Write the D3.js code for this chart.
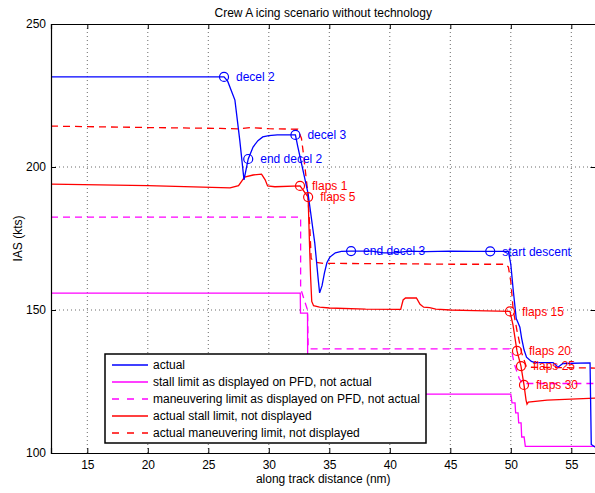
<!DOCTYPE html>
<html>
<head>
<meta charset="utf-8">
<script src="https://cdn.jsdelivr.net/npm/d3@7"></script>
<style>
  body { margin: 0; background: #fff; }
  text { font-family: "Liberation Sans", Arial, Helvetica, sans-serif; font-size: 12px; }
</style>
</head>
<body>
<div id="chart"></div>
<script>
// series data (x = along track nm, y = IAS kts)
var actualX = [12, 26.3, 26.6, 27.2, 27.6, 27.95, 28.3, 28.7, 29.1, 29.5, 30.0, 30.7, 32.2, 32.4, 33.24, 33.8, 34.1, 34.2, 34.4, 34.6, 34.8, 35.05, 35.5, 36.0, 36.8, 38.5, 39.5, 40.5, 41.5, 43, 45, 47, 48.3, 49.8, 50.0, 50.2, 50.45, 50.6, 50.75, 50.9, 51.1, 51.3, 51.7, 52.0, 53.5, 53.9, 54.3, 56.55, 56.65, 57];
var actualY = [231.5, 231.5, 230, 223.4, 209.4, 195.5, 202.8, 207, 209.2, 210.5, 211, 211.2, 211.2, 207, 190.9, 173.4, 160, 156, 158.5, 163, 166.5, 168.5, 170, 170.5, 170.6, 170.6, 170, 170, 170.6, 170.4, 170.6, 170.5, 170.5, 170.5, 166, 157, 147, 145.5, 144, 140, 136, 133.5, 132, 131.6, 131.6, 130, 131.3, 131.5, 103, 102];

var dispStallX = [12, 32.6, 32.62, 33.2, 33.22, 49.8, 50.0, 50.1, 50.35, 50.4, 50.6, 50.65, 50.85, 50.9, 51.1, 51.2, 57];
var dispStallY = [155.9, 155.9, 148.9, 148.9, 120.6, 120.6, 120.6, 117.5, 117.5, 114, 114, 110.5, 110.5, 105.6, 105.6, 102.3, 102.3];

var dispManX = [12, 32.63, 32.63, 33.2, 33.25, 33.4, 49.9, 50.1, 50.3, 50.5, 50.7, 51.0, 57];
var dispManY = [182.5, 182.5, 157.5, 150, 137, 136.4, 136.4, 135, 131, 128.5, 126, 124.3, 124.3];

var actStallX = [12, 20, 26.8, 27.5, 28.0, 28.7, 29.4, 29.7, 29.9, 30.5, 32.58, 33.25, 33.35, 33.45, 33.55, 33.7, 34.2, 35, 38, 40.9, 41.1, 41.3, 42.2, 42.5, 42.8, 43.3, 43.8, 45, 47, 49.93, 50.18, 50.51, 50.84, 51.09, 51.26, 51.34, 51.45, 53, 57];
var actStallY = [194.0, 193.5, 192.7, 193.5, 196.5, 197.2, 197.5, 195.5, 193.4, 193.1, 193.4, 189.5, 175, 162, 153, 151.5, 151, 150.7, 150.3, 150.2, 153.5, 154.2, 154.2, 152, 151, 150.8, 150.3, 150, 149.8, 149.5, 144.8, 135.7, 130.4, 123.8, 118.5, 117.1, 117.8, 118.5, 119.2];

var actManX = [12, 20, 26, 27.5, 28.5, 30, 32.4, 32.7, 32.85, 33.2, 33.4, 33.5, 33.8, 34.5, 40, 45, 49.6, 49.8, 50.0, 50.2, 50.5, 50.9, 51.3, 57];
var actManY = [214.3, 213.8, 213.5, 213.3, 213.8, 213.4, 213.2, 210, 205, 192, 178, 168, 166.7, 166.3, 166.2, 166, 166, 165, 160, 150, 143, 135, 130, 129.7];

// annotated event markers
var markerLabels = ["decel 2", "end decel 2", "decel 3", "end decel 3", "start descent", "flaps 1", "flaps 5", "flaps 15", "flaps 20", "flaps 25", "flaps 30"];
var markerX = [26.3, 28.3, 32.2, 36.8, 48.3, 32.58, 33.25, 49.93, 50.51, 50.84, 51.09];
var markerY = [231.5, 202.8, 211.2, 170.6, 170.5, 193.4, 189.5, 149.5, 135.7, 130.4, 123.8];
var markerSeries = ["actual", "actual", "actual", "actual", "actual", "actStall", "actStall", "actStall", "actStall", "actStall", "actStall"];

var legendLabels = ["actual", "stall limit as displayed on PFD, not actual", "maneuvering limit as displayed on PFD, not actual", "actual stall limit, not displayed", "actual maneuvering limit, not displayed"];

var xTicks = [15, 20, 25, 30, 35, 40, 45, 50, 55];
var yTicks = [100, 150, 200, 250];

// chart dimensions
var svgWidth = 595;
var svgHeight = 493;
var margin = { top: 24, right: 0, bottom: 40, left: 51 };
var width = 544.5;
var height = 429;

var series = [
  { key: "actual", xs: actualX, ys: actualY, color: "#0000ff", dash: null },
  { key: "dispStall", xs: dispStallX, ys: dispStallY, color: "#ff00ff", dash: null },
  { key: "dispMan", xs: dispManX, ys: dispManY, color: "#ff00ff", dash: "7,5" },
  { key: "actStall", xs: actStallX, ys: actStallY, color: "#ff0000", dash: null },
  { key: "actMan", xs: actManX, ys: actManY, color: "#ff0000", dash: "7,5" }
];
var colorOf = {};
series.forEach(function(s) { colorOf[s.key] = s.color; });

var svg = d3.select("#chart").append("svg")
  .attr("width", svgWidth)
  .attr("height", svgHeight);

var chartGroup = svg.append("g")
  .attr("transform", `translate(${margin.left}, ${margin.top})`);

var xScale = d3.scaleLinear().domain([12, 57]).range([0, width]);
var yScale = d3.scaleLinear().domain([100, 250]).range([height, 0]);

// dotted grid
chartGroup.append("g")
  .selectAll("line")
  .data(xTicks)
  .enter()
  .append("line")
  .attr("x1", d => xScale(d)).attr("x2", d => xScale(d))
  .attr("y1", 0).attr("y2", height)
  .attr("stroke", "#444")
  .attr("stroke-width", 0.8)
  .attr("stroke-dasharray", "1,3");

chartGroup.append("g")
  .selectAll("line")
  .data(yTicks.slice(1, 3))
  .enter()
  .append("line")
  .attr("x1", 0).attr("x2", width)
  .attr("y1", d => yScale(d)).attr("y2", d => yScale(d))
  .attr("stroke", "#444")
  .attr("stroke-width", 0.8)
  .attr("stroke-dasharray", "1,3");

// clip for plot lines
svg.append("defs").append("clipPath").attr("id", "plotClip")
  .append("rect").attr("width", width).attr("height", height);

var lineGen = d3.line()
  .x(d => xScale(d[0]))
  .y(d => yScale(d[1]));

var plotGroup = chartGroup.append("g").attr("clip-path", "url(#plotClip)");

// draw red first so blue sits on top like the original
var drawOrder = ["dispStall", "dispMan", "actMan", "actStall", "actual"];
drawOrder.forEach(function(k) {
  var s = series.find(d => d.key === k);
  plotGroup.append("path")
    .datum(d3.zip(s.xs, s.ys))
    .attr("fill", "none")
    .attr("stroke", s.color)
    .attr("stroke-width", 1.3)
    .attr("stroke-dasharray", s.dash)
    .attr("d", lineGen);
});

// markers and labels
var markers = markerLabels.map(function(l, i) {
  return { label: l, x: markerX[i], y: markerY[i], color: colorOf[markerSeries[i]] };
});

chartGroup.selectAll(".marker")
  .data(markers)
  .enter()
  .append("circle")
  .attr("class", "marker")
  .attr("cx", d => xScale(d.x))
  .attr("cy", d => yScale(d.y))
  .attr("r", 4.5)
  .attr("fill", "none")
  .attr("stroke", d => d.color)
  .attr("stroke-width", 1.2);

chartGroup.selectAll(".mlabel")
  .data(markers)
  .enter()
  .append("text")
  .attr("class", "mlabel")
  .attr("x", d => xScale(d.x) + 12)
  .attr("y", d => yScale(d.y))
  .attr("dy", "0.35em")
  .attr("fill", d => d.color)
  .text(d => d.label);

// axes (ticks inward, box all round)
var bottomAxis = d3.axisBottom(xScale).tickValues(xTicks).tickSize(-5).tickPadding(7);
var leftAxis = d3.axisLeft(yScale).tickValues(yTicks).tickSize(-5).tickPadding(5);
var topAxis = d3.axisTop(xScale).tickValues(xTicks).tickSize(-5).tickFormat("");
var rightAxis = d3.axisRight(yScale).tickValues(yTicks).tickSize(-5).tickFormat("");

chartGroup.append("g")
  .attr("transform", `translate(0, ${height})`)
  .call(bottomAxis);
chartGroup.append("g").call(leftAxis);
chartGroup.append("g").call(topAxis);
chartGroup.append("g")
  .attr("transform", `translate(${width}, 0)`)
  .call(rightAxis);

chartGroup.selectAll(".domain").attr("stroke", "#000").attr("stroke-width", 1.2);
chartGroup.selectAll(".tick line").attr("stroke", "#000");
chartGroup.selectAll(".tick text")
  .attr("fill", "#000")
  .style("font-size", "12px")
  .style("font-family", "'Liberation Sans', Arial, Helvetica, sans-serif");

// title and axis labels
svg.append("text")
  .attr("x", margin.left + width / 2)
  .attr("y", 17)
  .attr("text-anchor", "middle")
  .text("Crew A icing scenario without technology");

svg.append("text")
  .attr("transform", `translate(${margin.left + width / 2}, 483)`)
  .attr("text-anchor", "middle")
  .text("along track distance (nm)");

svg.append("text")
  .attr("transform", `translate(22, ${margin.top + height / 2}) rotate(-90)`)
  .attr("text-anchor", "middle")
  .text("IAS (kts)");

// legend
var legend = svg.append("g").attr("transform", "translate(105, 354)");
legend.append("rect")
  .attr("width", 321)
  .attr("height", 89)
  .attr("fill", "#fff")
  .attr("stroke", "#000")
  .attr("stroke-width", 1.5);

var legendItems = legend.selectAll(".legItem")
  .data(legendLabels)
  .enter()
  .append("g")
  .attr("class", "legItem")
  .attr("transform", (d, i) => `translate(0, ${11 + i * 17})`);

legendItems.append("line")
  .attr("x1", 7).attr("x2", 43)
  .attr("y1", 0).attr("y2", 0)
  .attr("stroke", (d, i) => series[i].color)
  .attr("stroke-width", 1.3)
  .attr("stroke-dasharray", (d, i) => series[i].dash ? "7,8" : null);

legendItems.append("text")
  .attr("x", 48)
  .attr("dy", "0.35em")
  .text(d => d);
</script>
</body>
</html>
